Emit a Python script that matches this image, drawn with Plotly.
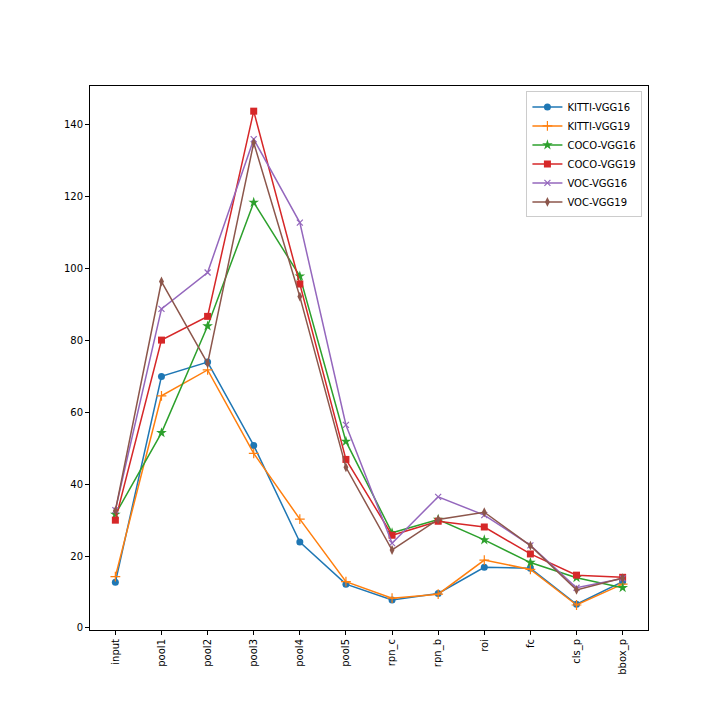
import plotly.graph_objects as go

layers = ["input", "pool1", "pool2", "pool3", "pool4", "pool5", "rpn_c", "rpn_b", "roi", "fc", "cls_p", "bbox_p"]

kitti_vgg16 = [12.7, 70.0, 74.0, 50.8, 23.9, 12.2, 7.8, 9.6, 16.9, 16.6, 6.6, 12.9]
kitti_vgg19 = [14.3, 64.6, 71.8, 48.6, 30.3, 12.9, 8.3, 9.4, 18.9, 16.3, 6.4, 12.2]
coco_vgg16 = [31.6, 54.3, 84.0, 118.4, 97.9, 51.9, 26.5, 30.2, 24.5, 18.2, 14.0, 11.2]
coco_vgg19 = [30.0, 80.1, 86.7, 143.8, 95.7, 46.9, 25.8, 29.7, 28.1, 20.6, 14.7, 14.1]
voc_vgg16 = [32.8, 88.8, 98.9, 136.0, 112.8, 56.5, 23.6, 36.5, 31.4, 23.0, 11.2, 13.8]
voc_vgg19 = [32.6, 96.4, 73.6, 135.0, 92.2, 44.7, 21.7, 30.2, 32.2, 22.9, 10.6, 13.9]

series = [
    ("KITTI-VGG16", kitti_vgg16, "#1f77b4", "circle", 7),
    ("KITTI-VGG19", kitti_vgg19, "#ff7f0e", "cross-thin", 7),
    ("COCO-VGG16", coco_vgg16, "#2ca02c", "star", 8),
    ("COCO-VGG19", coco_vgg19, "#d62728", "square", 7),
    ("VOC-VGG16", voc_vgg16, "#9467bd", "x-thin", 6),
    ("VOC-VGG19", voc_vgg19, "#8c564b", "diamond-tall", 7),
]

fig = go.Figure()
for name, vals, color, sym, size in series:
    fig.add_trace(go.Scatter(
        x=list(range(len(layers))), y=vals, name=name, mode="lines+markers",
        line=dict(color=color, width=1.5),
        marker=dict(symbol=sym, size=size, color=color, line=dict(color=color, width=1.2 if "thin" in sym else 0)),
    ))

axis_common = dict(
    showgrid=False, zeroline=False, showline=True, linecolor="black", linewidth=1,
    mirror=True, ticks="outside", ticklen=4, tickcolor="black",
    tickfont=dict(family="DejaVu Sans", size=10, color="black"),
)

fig.update_layout(
    width=720, height=720,
    margin=dict(l=82, r=80, t=78, b=98),
    paper_bgcolor="white", plot_bgcolor="white",
    font=dict(family="DejaVu Sans", size=10, color="black"),
    xaxis=dict(tickmode="array", tickvals=list(range(len(layers))), ticktext=layers,
               range=[-0.55, 11.55], tickangle=-90, **axis_common),
    yaxis=dict(range=[-0.56, 150.8], tickmode="array", tickvals=list(range(0, 141, 20)), **axis_common),
    legend=dict(x=0.99, y=0.99, xanchor="right", yanchor="top",
                bgcolor="rgba(255,255,255,0.8)", bordercolor="#cccccc", borderwidth=1,
                font=dict(family="DejaVu Sans", size=10, color="black"), tracegroupgap=0),
    showlegend=True,
)

fig.write_html("out.html")
